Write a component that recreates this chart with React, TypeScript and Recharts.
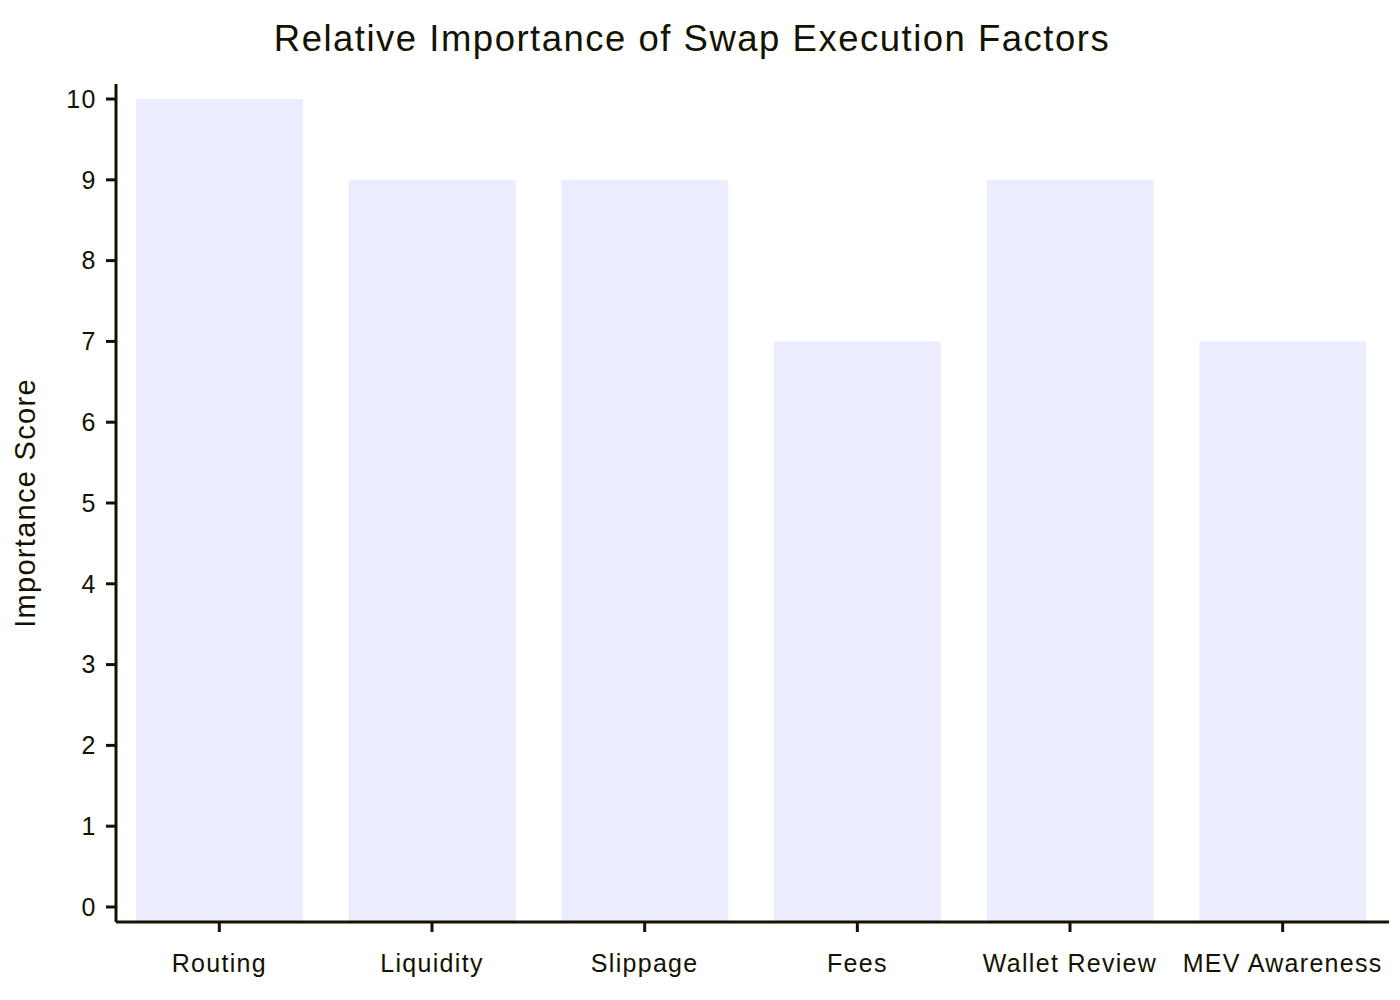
import React from 'react';
import { BarChart, Bar, XAxis, YAxis } from 'recharts';

const factors = ['Routing', 'Liquidity', 'Slippage', 'Fees', 'Wallet Review', 'MEV Awareness'];
const scores = [10, 9, 9, 7, 9, 7];
const scoreTicks = [0, 1, 2, 3, 4, 5, 6, 7, 8, 9, 10];

// the plot runs a little past 0 and 10, and the bars start at the bottom edge
const yMin = -0.186;
const yMax = 10.186;

const INK = '#131300';
const BAR = '#ECECFF';
const FONT = '"Liberation Sans", Arial, sans-serif';

const chartData = factors.map((name, i) => ({ name, score: [yMin, scores[i]] }));

const AxisTitle = (props: any) => {
  const { viewBox } = props;
  const x = viewBox.x - 31;
  const y = viewBox.y + viewBox.height / 2;
  return (
    <text
      x={x}
      y={y}
      transform={`rotate(-90, ${x}, ${y})`}
      textAnchor="middle"
      dominantBaseline="central"
      fill={INK}
      fontSize={29}
      letterSpacing={1.3}
      fontFamily={FONT}
    >
      Importance Score
    </text>
  );
};

export default function App() {
  return (
    <div style={{ position: 'absolute', left: 0, top: 0, width: 1400, height: 1000, background: '#fff' }}>
      <div
        style={{
          position: 'absolute',
          left: 0,
          top: 16,
          width: 1384,
          textAlign: 'center',
          fontFamily: FONT,
          fontSize: 36.5,
          letterSpacing: 1.5,
          color: INK,
          lineHeight: '46px',
        }}
      >
        Relative Importance of Swap Execution Factors
      </div>
      <BarChart
        width={1400}
        height={1000}
        data={chartData}
        margin={{ top: 84, right: 11, bottom: 0, left: 56 }}
      >
        <XAxis
          dataKey="name"
          height={78}
          padding={{ left: -3, right: 0 }}
          axisLine={{ stroke: INK, strokeWidth: 3 }}
          tickLine={{ stroke: INK, strokeWidth: 3 }}
          tickSize={10}
          tickMargin={22}
          tick={{ fill: INK, fontSize: 25, fontFamily: FONT, letterSpacing: 1.3 }}
          interval={0}
        />
        <YAxis
          width={60}
          type="number"
          domain={[yMin, yMax]}
          ticks={scoreTicks}
          allowDataOverflow
          axisLine={{ stroke: INK, strokeWidth: 3 }}
          tickLine={{ stroke: INK, strokeWidth: 3 }}
          tickSize={10}
          tickMargin={9}
          tick={{ fill: INK, fontSize: 25, fontFamily: FONT, letterSpacing: 1.5 }}
          label={<AxisTitle />}
        />
        <Bar dataKey="score" fill={BAR} barSize={167} isAnimationActive={false} />
      </BarChart>
    </div>
  );
}
